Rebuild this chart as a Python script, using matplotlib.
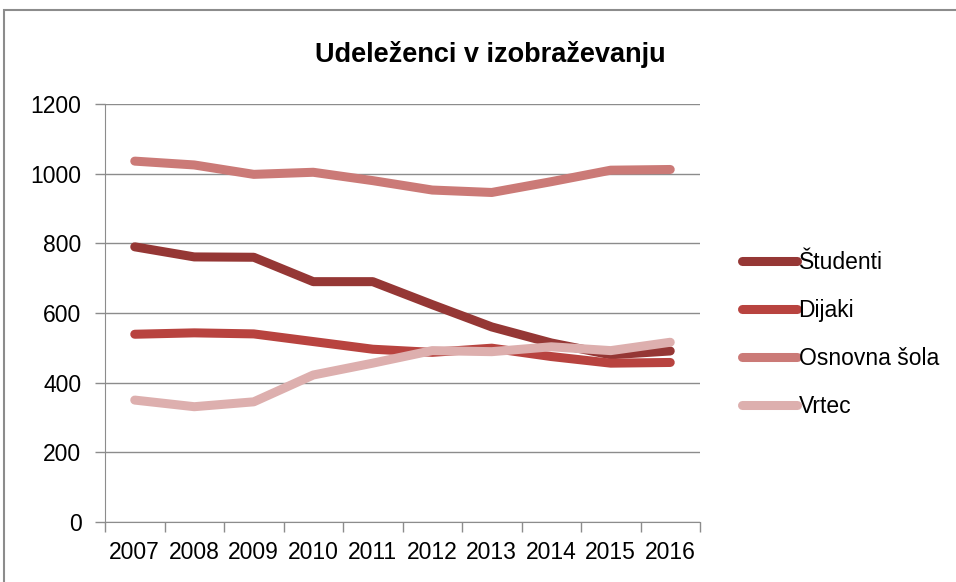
import matplotlib
matplotlib.use("Agg")
import matplotlib.pyplot as plt
from matplotlib.patches import Rectangle
from matplotlib.ticker import FixedLocator

years = ["2007", "2008", "2009", "2010", "2011", "2012", "2013", "2014", "2015", "2016"]
studenti = [790, 761, 760, 690, 690, 624, 560, 514, 480, 491]
dijaki = [539, 543, 540, 518, 496, 487, 499, 475, 456, 458]
osnovna = [1036, 1025, 998, 1004, 980, 953, 946, 977, 1010, 1012]
vrtec = [350, 331, 345, 422, 456, 492, 489, 503, 492, 516]
series_names = ["Študenti", "Dijaki", "Osnovna šola", "Vrtec"]
series_values = [studenti, dijaki, osnovna, vrtec]
colors = ["#953735", "#B8433F", "#CB7A77", "#DDAFAE"]

plt.rcParams['font.family'] = ['Liberation Sans', 'DejaVu Sans']

fig = plt.figure(figsize=(9.56, 5.82), dpi=100)
fig.patches.append(Rectangle((4/956, -0.1), 1.2, 1 - 10/582 + 0.1, transform=fig.transFigure,
                             fill=False, edgecolor="#8c8c8c", linewidth=1.5))

ax = fig.add_axes([105/956, 1 - 522/582, 595/956, 418/582])
x = list(range(len(years)))
for name, vals, c in zip(series_names, series_values, colors):
    ax.plot(x, vals, color=c, linewidth=6.5, solid_capstyle='round',
            solid_joinstyle='round', label=name)

ax.set_xlim(-0.5, len(years) - 0.5)
ax.set_ylim(0, 1200)
ax.set_yticks(range(0, 1201, 200))
ax.yaxis.grid(True, color="#8c8c8c", linewidth=1)
ax.set_axisbelow(True)
ax.set_xticks(x)
ax.set_xticklabels(years)
ax.xaxis.set_minor_locator(FixedLocator([i - 0.5 for i in range(len(years) + 1)]))
ax.tick_params(axis='x', which='major', length=0, pad=14, labelsize=16.5, colors="#000000")
ax.tick_params(axis='x', which='minor', length=7, width=1, color="#8c8c8c")
ax.tick_params(axis='y', length=7, width=1, color="#8c8c8c", pad=10, labelsize=16.5)
for s in ['top', 'right']:
    ax.spines[s].set_visible(False)
ax.spines['left'].set_color("#8c8c8c")
ax.spines['bottom'].set_color("#8c8c8c")

fig.text(490/956, 1 - 55/582, "Udeleženci v izobraževanju", ha='center', va='center',
         fontsize=19.5, fontweight='bold')

leg = ax.legend(loc='center left', bbox_to_anchor=(731/956, 1 - 334.5/582),
                bbox_transform=fig.transFigure, frameon=False, fontsize=16.5,
                handlelength=2.4, handletextpad=0.05, labelspacing=1.1, borderpad=0)

fig.savefig("out.png", dpi=100)
